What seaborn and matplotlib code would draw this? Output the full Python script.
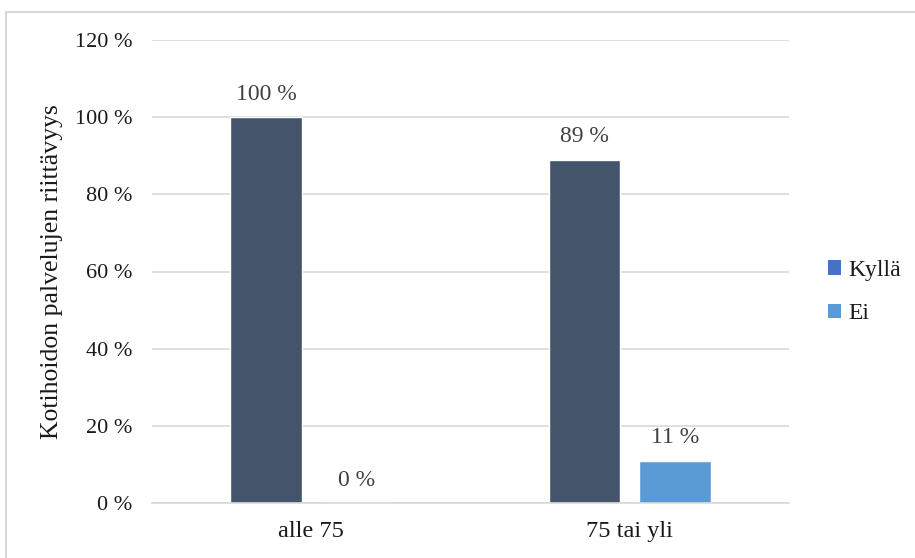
import matplotlib
matplotlib.use("Agg")
import matplotlib.pyplot as plt
from matplotlib.lines import Line2D
from matplotlib.patches import Patch
from matplotlib.ticker import FuncFormatter
import seaborn as sns
import pandas as pd

categories = ["alle 75", "75 tai yli"]
series = ["Kyllä", "Ei"]
kylla = [100, 89]
ei = [0, 11]
bar_colors = {"Kyllä": "#44546A", "Ei": "#5B9BD5"}
legend_colors = {"Kyllä": "#4472C4", "Ei": "#5B9BD5"}
y_ticks = [0, 20, 40, 60, 80, 100, 120]
y_label = "Kotihoidon palvelujen riittävyys"

df = pd.DataFrame({
    "Ikä": categories * 2,
    "Vastaus": [series[0]] * 2 + [series[1]] * 2,
    "Osuus": kylla + ei,
})

sns.set_theme(style="white")
plt.rcParams["font.family"] = ["Liberation Serif", "DejaVu Serif"]

W, H = 915, 558
fig = plt.figure(figsize=(W / 100, H / 100), dpi=100)
ax = fig.add_axes([152 / W, 1 - 503 / H, 637 / W, 463 / H])

sns.barplot(data=df, x="Ikä", y="Osuus", hue="Vastaus", order=categories,
            hue_order=series, palette=bar_colors, width=0.567, gap=0.211,
            legend=False, ax=ax, saturation=1)

ax.set_xlim(-0.5, 1.5)
ax.set_ylim(0, 120)
ax.set_yticks(y_ticks)
ax.yaxis.set_major_formatter(FuncFormatter(lambda v, p: f"{int(v)} %"))
ax.grid(axis="y", color="#D9D9D9", linewidth=1.2)
ax.set_axisbelow(True)
for side in ["top", "right", "left"]:
    ax.spines[side].set_visible(False)
ax.spines["bottom"].set_color("#D9D9D9")
ax.spines["bottom"].set_linewidth(1.2)
ax.tick_params(axis="y", length=0, pad=14, labelsize=16, labelcolor="#1a1a1a")
ax.tick_params(axis="x", length=0, pad=13, labelsize=17.5, labelcolor="#1a1a1a")
ax.set_xlabel("")
ax.set_ylabel(y_label, fontsize=18.5, color="#1a1a1a")
ax.yaxis.set_label_coords((63 - 152) / 637, 0.5)

for container in ax.containers:
    labels = [f"{v:.0f} %" for v in container.datavalues]
    ax.bar_label(container, labels=labels, padding=9, fontsize=17, color="#404040")

handles = [Patch(facecolor=legend_colors[s], edgecolor="none", label=s) for s in series]
fig.legend(handles=handles, loc="center left", bbox_to_anchor=(807 / W, 1 - 292 / H),
           frameon=False, fontsize=17, handlelength=0.55, handleheight=0.55,
           handletextpad=0.3, labelspacing=0.95, labelcolor="#1a1a1a")

# chart frame
fig.add_artist(Line2D([6 / W, 6 / W], [0, 1 - 12 / H], transform=fig.transFigure,
                      color="#D9D9D9", linewidth=1.5))
fig.add_artist(Line2D([6 / W, 1], [1 - 12 / H, 1 - 12 / H], transform=fig.transFigure,
                      color="#D9D9D9", linewidth=1.5))

fig.savefig("out.png", dpi=100, facecolor="white")
